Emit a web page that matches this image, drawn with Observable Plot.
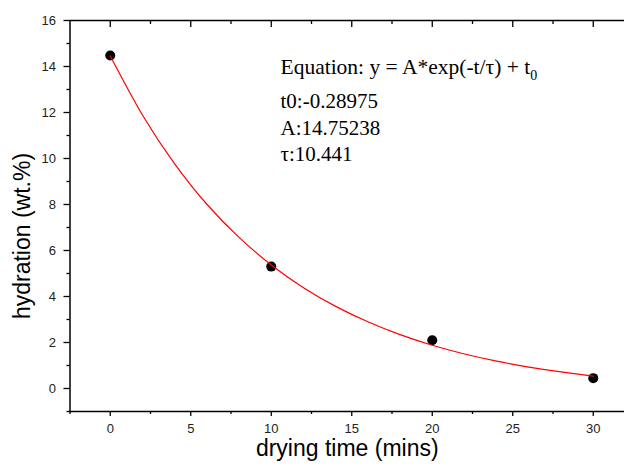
<!DOCTYPE html>
<html>
<head>
<meta charset="utf-8">
<script src="https://cdn.jsdelivr.net/npm/d3@7"></script>
<script src="https://cdn.jsdelivr.net/npm/@observablehq/plot@0.6"></script>
<style>
  html, body { margin: 0; padding: 0; background: #fff; }
  #chart svg { display: block; }
</style>
</head>
<body>
<div id="chart"></div>
<script>
// Measured data points
const dryTime = [0, 10, 20, 30];
const hydration = [14.48, 5.3, 2.1, 0.45];

// Fitted curve
const curveTime = [0, 2, 4, 6, 8, 10, 12, 14, 16, 18, 20, 22, 24, 26, 28, 30];
const curveHydration = [14.46, 11.89, 9.77, 8.01, 6.57, 5.37, 4.38, 3.57, 2.90, 2.34, 1.88, 1.50, 1.19, 0.93, 0.72, 0.54];

// Axes
const xDomain = [-2.5, 31.94];
const yDomain = [-1, 16];
const xMajor = [0, 5, 10, 15, 20, 25, 30];
const xMinor = [-2.5, 2.5, 7.5, 12.5, 17.5, 22.5, 27.5];
const yMajor = [0, 2, 4, 6, 8, 10, 12, 14, 16];
const yMinor = [-1, 1, 3, 5, 7, 9, 11, 13, 15];

const xLabel = "drying time (mins)";
const yLabel = "hydration (wt.%)";
const annoLines = ["t0:-0.28975", "A:14.75238", "τ:10.441"];

const points = dryTime.map((t, i) => ({t, h: hydration[i]}));
const curve = curveTime.map((t, i) => ({t, h: curveHydration[i]}));

const sans = "Liberation Sans, Arial, sans-serif";
const blank = () => "";

const chart = Plot.plot({
  width: 624,
  height: 468,
  marginLeft: 69.5,
  marginRight: 0,
  marginTop: 20,
  marginBottom: 57,
  style: {fontFamily: sans, background: "#fff", color: "#000"},
  x: {domain: xDomain, axis: null},
  y: {domain: yDomain, axis: null},
  marks: [
    // bottom axis
    Plot.axisX(xMajor, {anchor: "bottom", tickSize: 5, tickPadding: 7, fontSize: 13, label: null, stroke: "#000", fill: "#222", strokeWidth: 1.3, tickFormat: d => d}),
    Plot.axisX(xMinor, {anchor: "bottom", tickSize: 3, label: null, stroke: "#000", strokeWidth: 1.3, tickFormat: blank}),
    // top axis (ticks pointing inward)
    Plot.axisX(xMajor, {anchor: "top", tickSize: 6, dy: 6, label: null, stroke: "#000", strokeWidth: 1.3, tickFormat: blank}),
    Plot.axisX(xMinor.slice(1), {anchor: "top", tickSize: 3, dy: 3, label: null, stroke: "#000", strokeWidth: 1.3, tickFormat: blank}),
    // left axis
    Plot.axisY(yMajor, {anchor: "left", tickSize: 6, tickPadding: 8, fontSize: 13, label: null, stroke: "#000", fill: "#222", strokeWidth: 1.3, tickFormat: d => d}),
    Plot.axisY(yMinor, {anchor: "left", tickSize: 3, label: null, stroke: "#000", strokeWidth: 1.3, tickFormat: blank}),
    // frame lines
    Plot.ruleY([yDomain[0]], {stroke: "#000", strokeWidth: 1.5}),
    Plot.ruleY([yDomain[1]], {stroke: "#000", strokeWidth: 1.5}),
    Plot.ruleX([xDomain[0]], {stroke: "#000", strokeWidth: 1.5}),
    // data points
    Plot.dot(points, {x: "t", y: "h", r: 5, fill: "#000", stroke: "none"}),
    // fit curve (drawn over the points)
    Plot.line(curve, {x: "t", y: "h", stroke: "#ff0000", strokeWidth: 1.2, curve: "natural"}),
    // axis titles
    Plot.text([xLabel], {text: d => d, frameAnchor: "bottom", dy: 44.6, fontSize: 23, fill: "#000"}),
    Plot.text([yLabel], {text: d => d, frameAnchor: "left", textAnchor: "middle", rotate: -90, dx: -47.5, dy: 20, fontSize: 23, fill: "#000"})
  ]
});

const svg = d3.select(chart);
const serif = "Liberation Serif, Times New Roman, serif";
const g = svg.append("g").attr("font-family", serif).attr("fill", "#000").attr("text-anchor", "start");
const eq = g.append("text").attr("x", 280.5).attr("y", 74).attr("font-size", 21.5);
eq.append("tspan").text("Equation: y = A*exp(-t/τ) + t");
eq.append("tspan").attr("font-size", 14).attr("dy", 6).text("0");
const baselines = [108, 134.5, 161];
annoLines.forEach((s, i) => {
  g.append("text").attr("x", 280.5).attr("y", baselines[i]).attr("font-size", 21).text(s);
});

document.getElementById("chart").appendChild(chart);
</script>
</body>
</html>
